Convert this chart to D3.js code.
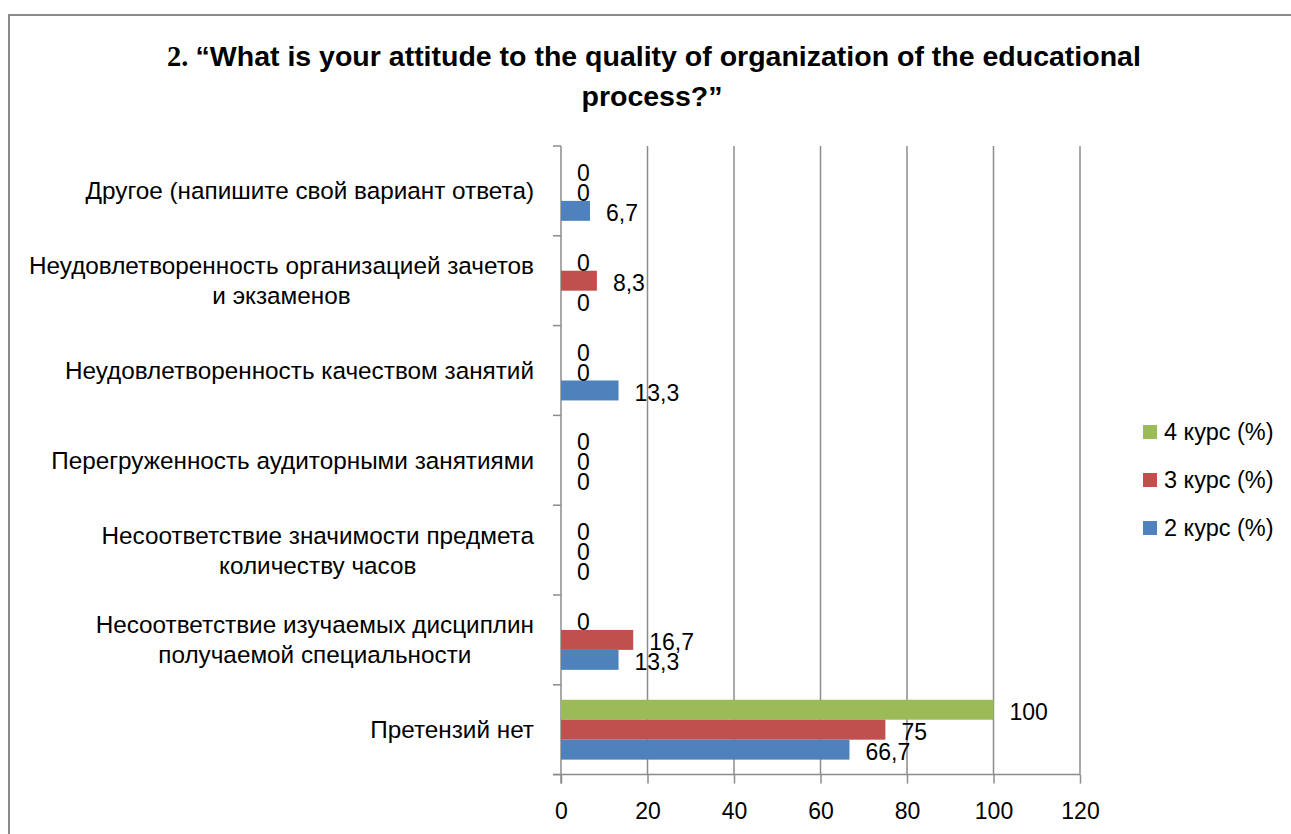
<!DOCTYPE html>
<html>
<head>
<meta charset="utf-8">
<script src="https://cdn.jsdelivr.net/npm/d3@7"></script>
<style>
  html, body { margin: 0; padding: 0; background: #fff; }
  svg { display: block; }
  text { font-family: "Liberation Sans", Arial, sans-serif; fill: #000; }
</style>
</head>
<body>
<svg id="chart" width="1291" height="834"></svg>
<script>
// ---- data ----
const categories = [
  "Другое (напишите свой вариант ответа)",
  "Неудовлетворенность организацией зачетов\nи экзаменов",
  "Неудовлетворенность качеством занятий",
  "Перегруженность аудиторными занятиями",
  "Несоответствие значимости предмета\nколичеству часов",
  "Несоответствие изучаемых дисциплин\nполучаемой специальности",
  "Претензий нет"
];
const seriesNames = ["4 курс (%)", "3 курс (%)", "2 курс (%)"];
const seriesColors = ["#9BBB59", "#C0504D", "#4F81BD"];
const course4 = [0, 0, 0, 0, 0, 0, 100];
const course3 = [0, 8.3, 0, 0, 0, 16.7, 75];
const course2 = [6.7, 0, 13.3, 0, 0, 13.3, 66.7];
const xTicks = [0, 20, 40, 60, 80, 100, 120];
const titleLines = ["“What is your attitude to the quality of organization of the educational", "process?”"];
const titlePrefix = "2.";

const seriesValues = [course4, course3, course2];

const svg = d3.select("#chart");

// border (cropped on right and bottom)
svg.append("path")
  .attr("d", "M9,834V15H1291")
  .attr("fill", "none")
  .attr("stroke", "#8a8a8a")
  .attr("stroke-width", 2);

// title
const t1 = svg.append("text")
  .attr("x", 654).attr("y", 66)
  .attr("text-anchor", "middle")
  .style("font-size", "28.5px").style("font-weight", "bold");
t1.append("tspan").style("font-family", "'Liberation Serif', serif").text(titlePrefix + " ");
t1.append("tspan").text(titleLines[0]);
svg.append("text")
  .attr("x", 652).attr("y", 106)
  .attr("text-anchor", "middle")
  .style("font-size", "28.5px").style("font-weight", "bold")
  .text(titleLines[1]);

// scales
const yTop = 146, yBottom = 774.6;
const x = d3.scaleLinear().domain([0, 120]).range([561, 1080]);
const y = d3.scaleBand().domain(categories).range([yTop, yBottom])
  .paddingInner(1/3).paddingOuter(1/6);
const ySub = d3.scaleBand().domain(seriesNames).range([0, y.bandwidth()]);
const step = y.step();

// gridlines
svg.append("g").selectAll("line").data(xTicks.filter(d => d > 0)).join("line")
  .attr("x1", d => x(d)).attr("x2", d => x(d))
  .attr("y1", yTop).attr("y2", yBottom)
  .attr("stroke", "#8c8c8c").attr("stroke-width", 1.5);

// x axis
const xAxis = svg.append("g").attr("transform", `translate(0,${yBottom})`)
  .call(d3.axisBottom(x).tickValues(xTicks).tickSize(9).tickPadding(19));
xAxis.select(".domain").remove();
xAxis.selectAll(".tick line").attr("stroke", "#8c8c8c").attr("stroke-width", 1.5);
xAxis.selectAll(".tick text").style("font-size", "23px").style("font-family", "'Liberation Sans', Arial, sans-serif").attr("fill", "#000");
svg.append("line").attr("x1", 553).attr("x2", 1080).attr("y1", yBottom).attr("y2", yBottom)
  .attr("stroke", "#8c8c8c").attr("stroke-width", 1.5);

// y axis line and category ticks
svg.append("line").attr("x1", 561).attr("x2", 561).attr("y1", yTop).attr("y2", yBottom + 9)
  .attr("stroke", "#8c8c8c").attr("stroke-width", 1.5);
svg.append("g").selectAll("line").data(d3.range(categories.length + 1)).join("line")
  .attr("x1", 553).attr("x2", 561)
  .attr("y1", i => yTop + i * step).attr("y2", i => yTop + i * step)
  .attr("stroke", "#8c8c8c").attr("stroke-width", 1.5);

// bars
const bars = svg.append("g");
seriesNames.forEach((s, si) => {
  bars.append("g").selectAll("rect").data(categories).join("rect")
    .attr("x", x(0))
    .attr("y", c => y(c) + ySub(s))
    .attr("width", (c, i) => x(seriesValues[si][i]) - x(0))
    .attr("height", ySub.bandwidth())
    .attr("fill", seriesColors[si]);
});

// value labels
const fmt = v => String(v).replace(".", ",");
seriesNames.forEach((s, si) => {
  svg.append("g").selectAll("text").data(categories).join("text")
    .attr("x", (c, i) => x(seriesValues[si][i]) + 16)
    .attr("y", c => y(c) + ySub(s) + ySub.bandwidth() / 2 + 2)
    .attr("dy", "0.35em")
    .style("font-size", "23px")
    .text((c, i) => fmt(seriesValues[si][i]));
});

// category labels
const labelRight = 534;
const lineH = 30;
categories.forEach(c => {
  const lines = c.split("\n");
  const cy = y(c) + y.bandwidth() / 2;
  const g = svg.append("g");
  const texts = lines.map((ln, li) => g.append("text")
    .attr("y", cy + (li - (lines.length - 1) / 2) * lineH)
    .attr("dy", "0.35em")
    .style("font-size", "24.3px")
    .text(ln));
  const w = d3.max(texts, t => t.node().getComputedTextLength());
  texts.forEach(t => t.attr("x", labelRight - w / 2).attr("text-anchor", "middle"));
});

// legend
const lg = svg.append("g");
seriesNames.forEach((s, i) => {
  const cy = 432 + i * 48;
  lg.append("rect").attr("x", 1143).attr("y", cy - 7).attr("width", 14).attr("height", 14)
    .attr("fill", seriesColors[i]);
  lg.append("text").attr("x", 1164).attr("y", cy).attr("dy", "0.35em")
    .style("font-size", "23.5px").text(s);
});
</script>
</body>
</html>
